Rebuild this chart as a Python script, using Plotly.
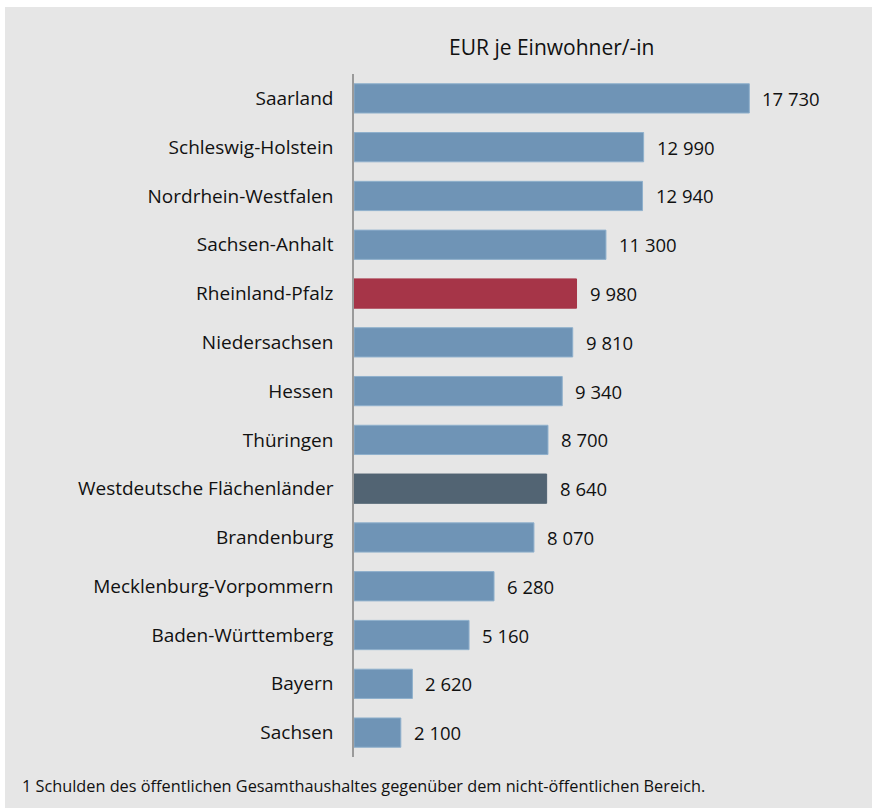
import plotly.graph_objects as go

# Pro-Kopf-Schulden der Länder (EUR je Einwohner/-in)
laender = [
    "Saarland", "Schleswig-Holstein", "Nordrhein-Westfalen", "Sachsen-Anhalt",
    "Rheinland-Pfalz", "Niedersachsen", "Hessen", "Thüringen",
    "Westdeutsche Flächenländer", "Brandenburg", "Mecklenburg-Vorpommern",
    "Baden-Württemberg", "Bayern", "Sachsen",
]
schulden = [17730, 12990, 12940, 11300, 9980, 9810, 9340, 8700, 8640, 8070,
            6280, 5160, 2620, 2100]

BLUE = "#6f94b6"
RED = "#a63548"
DARK = "#526473"
colors = [RED if n == "Rheinland-Pfalz" else DARK if n == "Westdeutsche Flächenländer" else BLUE
          for n in laender]
edge = ["#8fb0cc" if c == BLUE else c for c in colors]

W, H = 872, 808
L, R, T, B = 354, 118, 74, 51
pw, ph = W - L - R, H - T - B


def px_x(x):
    return (x - L) / pw


def px_y(y):
    return 1 - (y - T) / ph


FONT = "Open Sans"
fmt = lambda v: f"{v:,}".replace(",", " ")

fig = go.Figure(go.Bar(
    x=schulden, y=laender, orientation="h", width=0.6,
    marker=dict(color=colors, line=dict(color=edge, width=1)),
    hoverinfo="skip",
))

annotations = [
    dict(x=v, y=n, xref="x", yref="y", text=fmt(v), showarrow=False,
         xanchor="left", yanchor="middle", xshift=11,
         font=dict(family=FONT, size=18.5, color="#111111"))
    for n, v in zip(laender, schulden)
]
annotations.append(dict(
    x=px_x(551), y=px_y(47), xref="paper", yref="paper", text="EUR je Einwohner/-in",
    showarrow=False, xanchor="center", yanchor="middle",
    font=dict(family=FONT, size=21, color="#111111")))
annotations.append(dict(
    x=px_x(20), y=px_y(786), xref="paper", yref="paper",
    text="1 Schulden des öffentlichen Gesamthaushaltes gegenüber dem nicht-öffentlichen Bereich.",
    showarrow=False, xanchor="left", yanchor="middle",
    font=dict(family=FONT, size=16.3, color="#111111")))

fig.update_layout(
    width=W, height=H,
    margin=dict(l=L, r=R, t=T, b=B, pad=0),
    paper_bgcolor="white", plot_bgcolor="rgba(0,0,0,0)",
    showlegend=False,
    annotations=annotations,
    shapes=[dict(type="rect", xref="paper", yref="paper", layer="below",
                 x0=px_x(5), x1=px_x(W + 2), y0=px_y(H + 2), y1=px_y(7),
                 fillcolor="#e6e6e6", line=dict(width=0))],
)
fig.update_xaxes(range=[0, 17940], visible=False, fixedrange=True)
fig.update_yaxes(
    categoryorder="array", categoryarray=laender, autorange="reversed",
    range=[13.5, -0.5],
    showline=True, linecolor="#9a9a9a", linewidth=1.5,
    showgrid=False, zeroline=False, ticks="", ticklabelstandoff=15,
    tickfont=dict(family=FONT, size=19, color="#111111"),
)

fig.write_html("out.html")
